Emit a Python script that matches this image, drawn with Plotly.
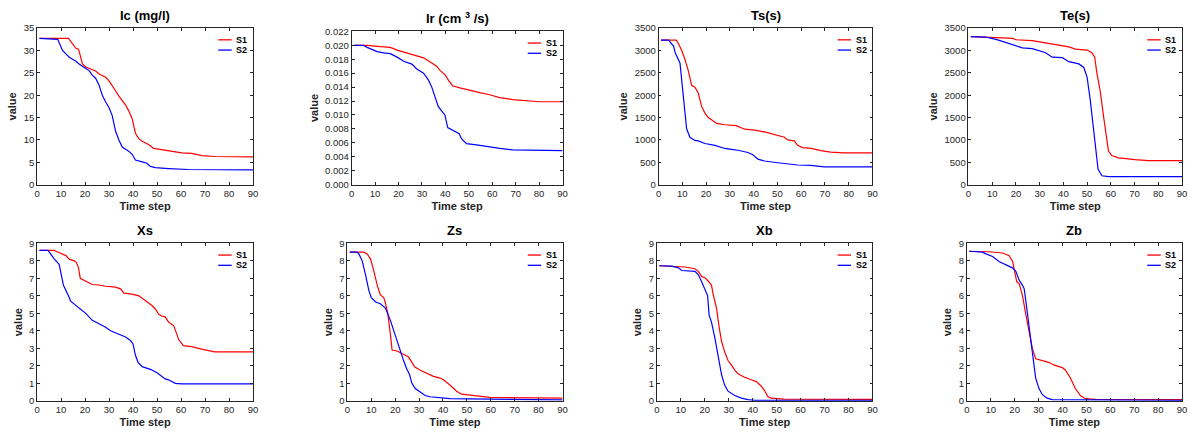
import plotly.graph_objects as go

# ---------------- data ----------------
titles = ["Ic (mg/l)", "Ir (cm <sup>3</sup> /s)", "Ts(s)", "Te(s)", "Xs", "Zs", "Xb", "Zb"]

ic_s1_t = [1, 13, 13.4, 14.8, 16.2, 17.3, 18.9, 20.3, 23, 24.4, 26, 27.2, 28.6, 30, 31.3, 32.7, 34.1, 35.5, 36.9, 38.2, 39.6, 41, 42.4, 43.8, 46.5, 48.6, 52, 54.8, 60.3, 64.5, 68.6, 74, 90]
ic_s1_v = [32.7, 32.7, 32.5, 31.5, 30.5, 30.3, 27, 26.3, 25.8, 25.4, 24.7, 24.4, 24, 23.2, 22, 21, 19.8, 18.8, 17.8, 16.5, 14.8, 11.5, 10.3, 9.7, 9.0, 8.1, 7.8, 7.5, 7.1, 7.0, 6.5, 6.3, 6.2]
ic_s2_t = [1, 8.6, 10.6, 13.4, 16.2, 17.5, 20.3, 21.7, 23, 24.4, 25.8, 27.2, 28.6, 30, 31.3, 32.7, 34.1, 35.5, 36.9, 38.2, 39.6, 41, 43.8, 45.8, 47.2, 49.3, 54.8, 63, 90]
ic_s2_v = [32.7, 32.5, 30, 28.5, 27.6, 27, 26, 25.5, 24.5, 23.8, 22.3, 20, 18.5, 17.2, 15.5, 12, 10, 8.4, 7.9, 7.5, 6.8, 5.5, 5.1, 4.8, 4.1, 3.8, 3.6, 3.4, 3.3]

ir_s1_t = [1, 6.6, 12.3, 16.5, 19.4, 22.2, 25, 27.8, 30.7, 33.5, 36.3, 37.7, 39.8, 41.3, 43, 46.2, 50.4, 54.7, 58.9, 63.2, 68.8, 74.5, 80, 90]
ir_s1_v = [0.0200, 0.0200, 0.0198, 0.0197, 0.0193, 0.0190, 0.0187, 0.0185, 0.0182, 0.0176, 0.0170, 0.0164, 0.0158, 0.0150, 0.0142, 0.0139, 0.0135, 0.0132, 0.0129, 0.0125, 0.0122, 0.0120, 0.0119, 0.0119]
ir_s2_t = [1, 5, 6.6, 10.9, 13.7, 16.5, 19.4, 22.2, 25.7, 27.8, 30.7, 32.8, 34.2, 35.6, 37, 38.4, 39.8, 41, 43.4, 45.9, 46.9, 49, 53.3, 58.9, 63.2, 68.8, 90]
ir_s2_v = [0.0200, 0.0200, 0.0197, 0.0191, 0.0189, 0.0188, 0.0183, 0.0177, 0.0173, 0.0166, 0.0160, 0.0150, 0.0140, 0.0125, 0.0112, 0.0106, 0.0100, 0.0082, 0.0078, 0.0073, 0.0066, 0.0059, 0.0057, 0.0054, 0.0052, 0.0050, 0.0049]

ts_s1_t = [1, 7.4, 8.4, 9.75, 11.1, 12.5, 13.9, 15.3, 16.7, 18.1, 19.5, 20.9, 22.3, 24.4, 27.9, 32.7, 36.2, 40.4, 44.6, 47.4, 50.2, 53, 54.3, 57.1, 58.5, 60.6, 64.1, 68.3, 72.4, 78, 90]
ts_s1_v = [3230, 3230, 3150, 3000, 2800, 2550, 2220, 2180, 2050, 1750, 1600, 1500, 1450, 1370, 1340, 1320, 1240, 1220, 1180, 1140, 1090, 1060, 1000, 980, 880, 830, 810, 760, 730, 710, 710]
ts_s2_t = [1, 4.2, 6.3, 7, 9, 9.75, 10.4, 11.1, 11.8, 13.2, 15.3, 16.7, 19.5, 23.7, 27.9, 30.6, 33.4, 37.6, 39.7, 41.8, 44.6, 50.2, 58.5, 64.1, 69.7, 90]
ts_s2_v = [3230, 3230, 3100, 2950, 2720, 2300, 1900, 1500, 1250, 1060, 990, 980, 920, 880, 810, 790, 770, 720, 670, 570, 530, 490, 440, 430, 400, 400]

te_s1_t = [1, 8.8, 14.4, 18.6, 20, 26.9, 32.5, 36.7, 42.3, 45.1, 50, 52, 53.2, 54.1, 55.5, 57, 58.3, 59, 60.4, 63.2, 70.2, 75.8, 90]
te_s1_v = [3310, 3300, 3280, 3270, 3240, 3220, 3170, 3120, 3080, 3030, 3010, 2950, 2850, 2500, 2100, 1500, 1000, 750, 650, 600, 560, 540, 540]
te_s2_t = [1, 7.4, 11.6, 15.8, 20, 22.7, 26.9, 29.7, 32.5, 35.3, 39.5, 42.3, 46.5, 48.6, 50, 51.3, 52.3, 53.4, 54.6, 56.2, 59, 90]
te_s2_v = [3310, 3300, 3250, 3180, 3110, 3060, 3040, 2990, 2950, 2850, 2840, 2750, 2700, 2620, 2400, 1900, 1400, 800, 350, 200, 180, 180]

xs_s1_t = [1, 7, 7.9, 10.6, 12, 13.4, 15.5, 16.4, 17.3, 18, 20.3, 23, 25.8, 28.6, 32.7, 34.8, 36.2, 39.6, 42.4, 45.1, 47.9, 49.3, 50.7, 52, 53.4, 54.8, 56.9, 58.3, 59, 61, 64.5, 68.6, 74, 90]
xs_s1_v = [8.6, 8.6, 8.55, 8.4, 8.3, 8.1, 8.0, 7.9, 7.6, 7.0, 6.85, 6.65, 6.62, 6.55, 6.5, 6.4, 6.15, 6.1, 6.0, 5.75, 5.45, 5.25, 4.95, 4.85, 4.8, 4.5, 4.3, 3.8, 3.5, 3.15, 3.1, 2.95, 2.8, 2.8]
xs_s2_t = [1, 4.5, 5.1, 7.2, 9.2, 9.9, 11, 13.4, 14, 17.5, 20.3, 23, 25.8, 28.6, 30.6, 34.1, 36.9, 38.9, 40, 41, 42.1, 43.8, 47.2, 50, 52, 53.4, 54.8, 57.6, 60.3, 90]
xs_s2_v = [8.6, 8.6, 8.5, 8.1, 7.8, 7.3, 6.6, 5.9, 5.7, 5.3, 5.0, 4.6, 4.4, 4.2, 4.0, 3.8, 3.65, 3.45, 3.25, 2.6, 2.2, 1.95, 1.8, 1.6, 1.4, 1.25, 1.2, 1.0, 0.97, 0.97]

zs_s1_t = [1, 6.9, 8.3, 9.7, 11.1, 12.5, 13.8, 15.2, 15.9, 16.9, 18, 18.7, 20.8, 22.8, 25.6, 27, 28.1, 30.5, 33.2, 36, 38.8, 40.2, 42.9, 45.7, 47.8, 49.8, 55.4, 59.5, 90]
zs_s1_v = [8.5, 8.5, 8.4, 8.1, 7.4, 6.6, 6.05, 5.9, 5.6, 5.0, 3.8, 2.9, 2.85, 2.7, 2.5, 2.2, 1.95, 1.75, 1.6, 1.4, 1.3, 1.2, 0.9, 0.55, 0.38, 0.35, 0.28, 0.2, 0.15]
zs_s2_t = [1, 4, 4.8, 6.2, 7.6, 9, 10, 11.8, 13.8, 15.9, 18, 19.4, 20.8, 22.2, 23.5, 24.9, 26, 27, 28.4, 30.5, 32.5, 34.6, 40.2, 42.9, 90]
zs_s2_v = [8.5, 8.5, 8.4, 8.0, 7.2, 6.3, 5.9, 5.65, 5.55, 5.3, 4.6, 4.0, 3.4, 2.8, 2.3, 1.8, 1.5, 1.0, 0.7, 0.5, 0.3, 0.23, 0.18, 0.12, 0.05]

xb_s1_t = [1, 7.6, 11.8, 15.9, 17.3, 18.7, 20, 21.4, 22.8, 23.5, 24.9, 26, 27, 28.3, 29.7, 31.1, 32.5, 33.9, 36.6, 39.4, 41.5, 43.5, 44.9, 46.3, 47.7, 53.2, 90]
xb_s1_v = [7.72, 7.7, 7.65, 7.55, 7.4, 7.1, 7.05, 6.85, 6.6, 6.1, 5.3, 4.2, 3.4, 2.8, 2.3, 2.05, 1.75, 1.55, 1.35, 1.2, 1.1, 0.85, 0.6, 0.25, 0.15, 0.1, 0.08]
xb_s2_t = [1, 6.2, 9, 10.4, 15.9, 17.3, 18.7, 20, 21.2, 21.8, 22.8, 24.2, 25.6, 27, 28.3, 29.7, 32.5, 35.3, 38, 40.8, 90]
xb_s2_v = [7.72, 7.7, 7.6, 7.45, 7.4, 7.2, 6.8, 6.4, 6.0, 4.9, 4.5, 3.6, 2.6, 1.5, 0.9, 0.55, 0.3, 0.15, 0.07, 0.03, 0.02]

zb_s1_t = [1, 9.4, 15, 17.7, 19.1, 20.2, 20.9, 21.9, 23.3, 24.6, 26, 27.4, 28.8, 31.6, 34.3, 36.4, 39.9, 41.3, 43.3, 45.4, 47.5, 49.6, 53.7, 90]
zb_s1_v = [8.55, 8.52, 8.45, 8.3, 8.0, 7.3, 6.8, 6.7, 6.0, 5.0, 4.0, 3.0, 2.4, 2.3, 2.2, 2.05, 1.9, 1.75, 1.3, 0.7, 0.3, 0.12, 0.08, 0.07]
zb_s2_t = [1, 6.6, 8, 10.8, 13.6, 16.4, 19.1, 20.5, 21.9, 23.3, 24, 24.6, 25.8, 26.7, 27.7, 28.8, 30.2, 31.6, 33.6, 35.7, 90]
zb_s2_v = [8.55, 8.5, 8.4, 8.25, 7.95, 7.75, 7.6, 7.4, 6.9, 6.6, 6.4, 5.8, 4.5, 3.3, 2.2, 1.3, 0.7, 0.35, 0.15, 0.07, 0.03]

series = [
    (ic_s1_t, ic_s1_v, ic_s2_t, ic_s2_v),
    (ir_s1_t, ir_s1_v, ir_s2_t, ir_s2_v),
    (ts_s1_t, ts_s1_v, ts_s2_t, ts_s2_v),
    (te_s1_t, te_s1_v, te_s2_t, te_s2_v),
    (xs_s1_t, xs_s1_v, xs_s2_t, xs_s2_v),
    (zs_s1_t, zs_s1_v, zs_s2_t, zs_s2_v),
    (xb_s1_t, xb_s1_v, xb_s2_t, xb_s2_v),
    (zb_s1_t, zb_s1_v, zb_s2_t, zb_s2_v),
]
y_ranges = [(0, 35, 5, None), (0, 0.022, 0.002, ".3f"), (0, 3500, 500, "d"), (0, 3500, 500, "d"),
            (0, 9, 1, None), (0, 9, 1, None), (0, 9, 1, None), (0, 9, 1, None)]
series_names = ["S1", "S2"]
series_colors = ["#ff0000", "#0000ff"]

# ---------------- layout (pixel geometry -> paper fractions) ----------------
W, H = 1193, 437
x_px = [(34.3, 251.7), (351, 563.3), (660, 875.3), (972, 1187),
        (34.3, 251.7), (346.7, 563.3), (658.3, 875.3), (970.3, 1187)]
y_px = [(22.7, 183.3), (26, 183.3), (22.7, 183.3), (22.7, 183.3),
        (243.5, 405), (243.5, 405), (243.5, 405), (243.5, 405)]

FONT = "Liberation Sans, Arial, Helvetica, sans-serif"
AX = "#262626"

fig = go.Figure()
layout = dict(width=W, height=H, margin=dict(l=0, r=0, t=0, b=0),
              paper_bgcolor="white", plot_bgcolor="white", showlegend=False,
              font=dict(family=FONT, color=AX, size=10), annotations=[], shapes=[])

for i in range(8):
    n = "" if i == 0 else str(i + 1)
    t1, v1, t2, v2 = series[i]
    for (t, v, nm, col) in [(t1, v1, series_names[0], series_colors[0]),
                            (t2, v2, series_names[1], series_colors[1])]:
        fig.add_trace(go.Scatter(x=t, y=v, mode="lines", name=nm,
                                 line=dict(color=col, width=1.2),
                                 xaxis="x" + n, yaxis="y" + n))
    xd = (x_px[i][0] / W, x_px[i][1] / W)
    yd = (1 - y_px[i][1] / H, 1 - y_px[i][0] / H)
    y0, y1, dy, fmt = y_ranges[i]
    common = dict(showline=True, linecolor=AX, linewidth=0.8, mirror="allticks",
                  ticks="inside", ticklen=3, tickcolor=AX, tickwidth=0.8,
                  showgrid=False, zeroline=False,
                  tickfont=dict(size=9.5, color=AX, family=FONT))
    layout["xaxis" + n] = dict(domain=xd, range=[0, 90], dtick=10, tick0=0,
                               anchor="y" + n,
                               title=dict(text="<b>Time step</b>", font=dict(size=11, color=AX), standoff=4),
                               **common)
    ya = dict(domain=yd, range=[y0, y1], dtick=dy, tick0=0, anchor="x" + n,
              title=dict(text="<b>value</b>", font=dict(size=11, color=AX), standoff=4),
              **common)
    if fmt:
        ya["tickformat"] = fmt
    layout["yaxis" + n] = ya
    # title
    layout["annotations"].append(dict(text="<b>" + titles[i] + "</b>", x=(xd[0] + xd[1]) / 2,
                                      y=yd[1] + 3 / H, xref="paper", yref="paper",
                                      xanchor="center", yanchor="bottom", showarrow=False,
                                      font=dict(size=13, color="black", family=FONT)))
    # legend (MATLAB-style, inside top-right)
    right_px = x_px[i][1]
    top_px = y_px[i][0]
    for k in range(2):
        ypx = top_px + 12 + 10.5 * k
        layout["shapes"].append(dict(type="line", xref="paper", yref="paper",
                                     x0=(right_px - 35) / W, x1=(right_px - 21.5) / W,
                                     y0=1 - ypx / H, y1=1 - ypx / H,
                                     line=dict(color=series_colors[k], width=1.3)))
        layout["annotations"].append(dict(text="<b>" + series_names[k] + "</b>",
                                          x=(right_px - 19) / W, y=1 - ypx / H,
                                          xref="paper", yref="paper", xanchor="left",
                                          yanchor="middle", showarrow=False,
                                          font=dict(size=9, color="black", family=FONT)))

fig.update_layout(**layout)
fig.write_html("out.html", config={"displayModeBar": False},
               post_script="document.body.style.margin='0';document.body.style.padding='0';")
